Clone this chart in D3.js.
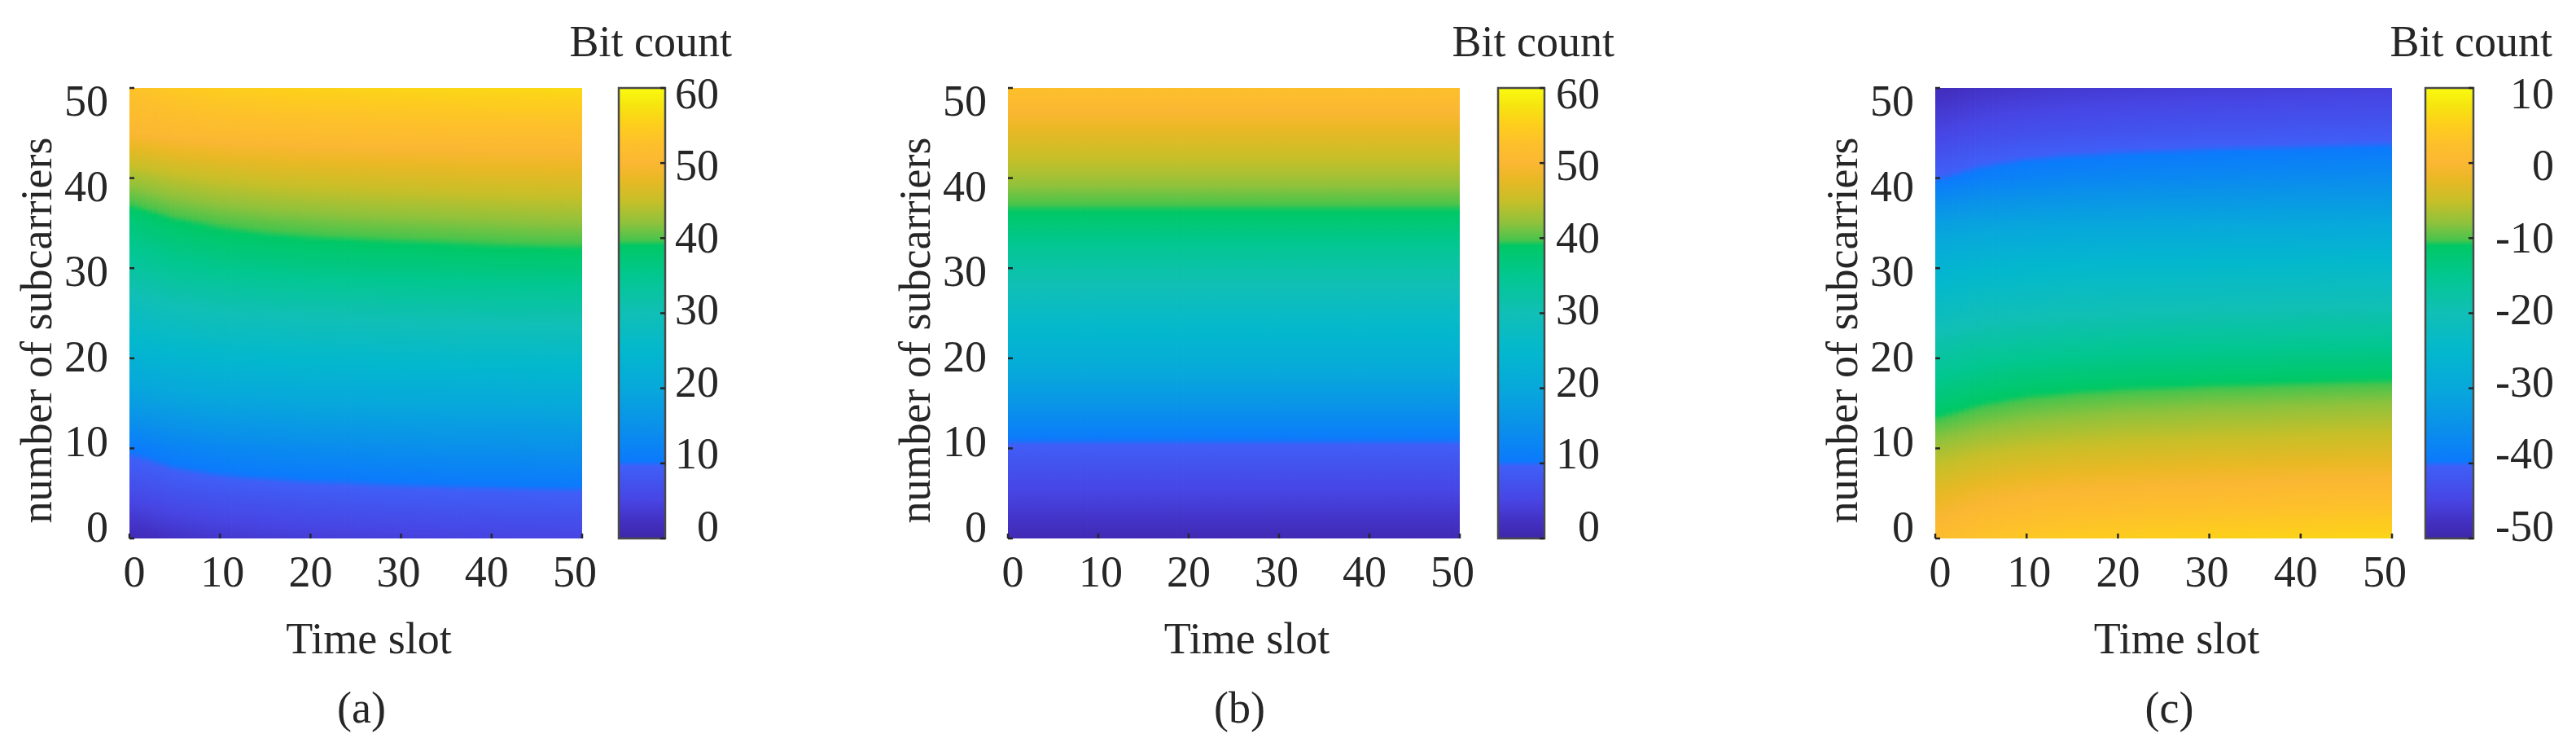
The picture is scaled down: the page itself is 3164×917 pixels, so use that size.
<!DOCTYPE html>
<html><head><meta charset="utf-8">
<script src="https://cdn.jsdelivr.net/npm/d3@7/dist/d3.min.js"></script>
<style>
html,body{margin:0;padding:0;background:#fff;}
svg{display:block;}
text{font-family:"Liberation Serif","Times New Roman",serif;fill:#262626;}
</style>
</head><body>
<svg id="chart" width="3164" height="917"></svg>
<script>
// ---------------- data ----------------
const timeSlots   = [0, 5, 10, 15, 20, 25, 30, 35, 40, 45, 50];
const subcarriers = [0, 5, 10, 15, 20, 25, 30, 35, 40, 45, 50];
const axisTicks   = [0, 10, 20, 30, 40, 50];
const cbTicksAB   = [0, 10, 20, 30, 40, 50, 60];
const cbTicksC    = [-50, -40, -30, -20, -10, 0, 10];
const panelLabels = ["(a)", "(b)", "(c)"];
const xTitle = "Time slot";
const yTitle = "number of subcarriers";
const cbTitle = "Bit count";

// rows = subcarriers (0..50), columns = time slots (0..50)
const bitsA = [
  [1, 2.4, 3.2, 3.7, 4, 4.2, 4.4, 4.6, 4.8, 4.9, 5],
  [6, 7.2, 7.9, 8.3, 8.6, 8.8, 9, 9.2, 9.3, 9.4, 9.5],
  [10.5, 12.1, 13, 13.5, 13.9, 14.1, 14.4, 14.6, 14.7, 14.9, 15],
  [17.5, 18.6, 19.2, 19.5, 19.8, 19.9, 20.1, 20.2, 20.3, 20.4, 20.5],
  [23, 24.1, 24.7, 25, 25.3, 25.4, 25.6, 25.7, 25.8, 25.9, 26],
  [28, 29.2, 29.9, 30.3, 30.6, 30.8, 31, 31.2, 31.3, 31.4, 31.5],
  [33, 34.4, 35.2, 35.7, 36, 36.2, 36.4, 36.6, 36.8, 36.9, 37],
  [37, 38.8, 39.8, 40.4, 40.8, 41.1, 41.3, 41.5, 41.7, 41.9, 42],
  [43, 44.4, 45.2, 45.7, 46, 46.2, 46.4, 46.6, 46.8, 46.9, 47],
  [50, 50.7, 51.1, 51.3, 51.5, 51.6, 51.7, 51.8, 51.9, 51.9, 52],
  [53, 54.2, 54.9, 55.3, 55.6, 55.8, 56, 56.2, 56.3, 56.4, 56.5]
];
// panel (b) does not change along the time axis: one value per subcarrier row
const bitsB = [1, 5, 9, 16, 22, 27, 32, 37.5, 43, 47.5, 52.5];
const bitsC = [
  [1.5, 3.1, 4, 4.5, 4.9, 5.1, 5.4, 5.6, 5.7, 5.9, 6],
  [-2.5, -1.1, -0.3, 0.2, 0.5, 0.7, 0.9, 1.1, 1.3, 1.4, 1.5],
  [-7, -5.8, -5.1, -4.7, -4.4, -4.2, -4, -3.9, -3.7, -3.6, -3.5],
  [-12.5, -10.9, -10, -9.5, -9.1, -8.9, -8.6, -8.5, -8.3, -8.1, -8],
  [-17, -15.8, -15.1, -14.7, -14.4, -14.2, -14, -13.9, -13.7, -13.6, -13.5],
  [-22, -21, -20.4, -20, -19.8, -19.6, -19.4, -19.3, -19.2, -19.1, -19],
  [-26.5, -25.6, -25.1, -24.8, -24.6, -24.5, -24.4, -24.3, -24.2, -24.1, -24],
  [-32, -31.3, -30.9, -30.7, -30.5, -30.4, -30.3, -30.2, -30.1, -30.1, -30],
  [-40.3, -38.8, -37.9, -37.4, -37.1, -36.8, -36.6, -36.4, -36.3, -36.1, -36],
  [-45, -43.8, -43.1, -42.7, -42.4, -42.2, -42, -41.9, -41.7, -41.6, -41.5],
  [-48.5, -47.5, -46.9, -46.5, -46.3, -46.1, -45.9, -45.8, -45.7, -45.6, -45.5]
];

// parula-like colormap (fraction -> colour)
const parulaPos = [0, 0.04, 0.085, 0.16, 0.172, 0.25, 0.333, 0.417, 0.5, 0.583, 0.65, 0.662, 0.70, 0.75, 0.80, 0.833, 0.88, 0.92, 0.96, 1];
const parulaCol = ["#3d26a8", "#4331c4", "#4745e3", "#3f5ff7", "#0b7afc", "#0a91ea", "#07a8db", "#03b8cd", "#10bfb6", "#02c790",
                   "#00c865", "#48c44c", "#8ec23c", "#c8bf28", "#eab825", "#fbb733", "#fdc12a", "#fdcf1c", "#f6e40f", "#f9fb0e"];

// ---------------- layout ----------------
const TOP = 108, BOTTOM = 661;
const FS = 54;
const panels = [
  {id: "a", grid: bitsA, x0: 159, x1: 715, cb0: 760, cb1: 817, cmin: 0, cmax: 60, cbTicks: cbTicksAB, cbLabelX: 883, titleX: 899},
  {id: "b", grid: bitsB, x0: 1238, x1: 1793, cb0: 1840, cb1: 1897, cmin: 0, cmax: 60, cbTicks: cbTicksAB, cbLabelX: 1965, titleX: 1983},
  {id: "c", grid: bitsC, x0: 2377, x1: 2938, cb0: 2979, cb1: 3038, cmin: -50, cmax: 10, cbTicks: cbTicksC, cbLabelX: 3137, titleX: 3135}
];

const svg = d3.select("#chart");
const defs = svg.append("defs");
const SUBY = 12; // shading steps between neighbouring data rows
const SUBX = 8;  // shading strips between neighbouring data columns

function cellValue(grid, j, i) {
  const row = grid[j];
  return Array.isArray(row) ? row[i] : row;
}

panels.forEach((p, pi) => {
  const g = svg.append("g");
  const x = d3.scaleLinear().domain([0, 50]).range([p.x0, p.x1]);
  const y = d3.scaleLinear().domain([0, 50]).range([BOTTOM, TOP]);
  const color = d3.scaleLinear()
    .domain(parulaPos.map(t => p.cmin + t * (p.cmax - p.cmin)))
    .range(parulaCol)
    .interpolate(d3.interpolateRgb)
    .clamp(true);

  // heat map with interpolated shading between the data nodes
  for (let i = 0; i < timeSlots.length - 1; i++) {
    const t0 = timeSlots[i], t1 = timeSlots[i + 1];
    for (let s = 0; s < SUBX; s++) {
      const fx = (s + 0.5) / SUBX;
      const gid = "g" + p.id + i + "_" + s;
      const grad = defs.append("linearGradient").attr("id", gid)
        .attr("x1", 0).attr("y1", 1).attr("x2", 0).attr("y2", 0);
      const col = j => {
        const a = cellValue(p.grid, j, i), b = cellValue(p.grid, j, i + 1);
        return a + (b - a) * fx;
      };
      for (let j = 0; j < subcarriers.length - 1; j++) {
        const v0 = col(j), v1 = col(j + 1);
        const s0 = subcarriers[j], s1 = subcarriers[j + 1];
        for (let k = 0; k < SUBY; k++) {
          const f = k / SUBY;
          grad.append("stop").attr("offset", (s0 + (s1 - s0) * f) / 50)
            .attr("stop-color", color(v0 + (v1 - v0) * f));
        }
      }
      grad.append("stop").attr("offset", 1).attr("stop-color", color(col(subcarriers.length - 1)));
      const xa = x(t0 + (t1 - t0) * s / SUBX), xb = x(t0 + (t1 - t0) * (s + 1) / SUBX);
      const last = (i === timeSlots.length - 2 && s === SUBX - 1);
      g.append("rect")
        .attr("x", xa).attr("y", y(50))
        .attr("width", xb - xa + (last ? 0 : 0.8))
        .attr("height", y(0) - y(50))
        .attr("fill", "url(#" + gid + ")");
    }
  }

  // inward ticks
  g.selectAll(".xt").data(axisTicks).enter().append("line")
    .attr("x1", d => x(d)).attr("x2", d => x(d))
    .attr("y1", BOTTOM).attr("y2", BOTTOM - 6)
    .attr("stroke", "#262626").attr("stroke-width", 2.5);
  g.selectAll(".yt").data(axisTicks).enter().append("line")
    .attr("x1", p.x0).attr("x2", p.x0 + 6)
    .attr("y1", d => y(d)).attr("y2", d => y(d))
    .attr("stroke", "#262626").attr("stroke-width", 2.5);

  // tick labels
  const xl = d3.scaleLinear().domain([0, 50]).range([p.x0 + 6, p.x1 - 9]);
  const yl = d3.scaleLinear().domain([0, 50]).range([BOTTOM - 15, TOP + 15]);
  g.selectAll(".xl").data(axisTicks).enter().append("text")
    .attr("x", d => xl(d)).attr("y", 720)
    .attr("text-anchor", "middle").attr("font-size", FS)
    .text(d => d);
  g.selectAll(".yl").data(axisTicks).enter().append("text")
    .attr("x", p.x0 - 26).attr("y", d => yl(d)).attr("dy", "0.35em")
    .attr("text-anchor", "end").attr("font-size", FS)
    .text(d => d);

  // axis titles
  const cx = (p.x0 + p.x1) / 2;
  g.append("text").attr("x", cx + 16).attr("y", 802)
    .attr("text-anchor", "middle").attr("font-size", FS).text(xTitle);
  g.append("text")
    .attr("transform", "translate(" + (p.x0 - 96) + "," + ((TOP + BOTTOM) / 2 + 21) + ") rotate(-90)")
    .attr("text-anchor", "middle").attr("font-size", FS).text(yTitle);
  g.append("text").attr("x", cx + 7).attr("y", 887)
    .attr("text-anchor", "middle").attr("font-size", FS).text(panelLabels[pi]);

  // colour bar
  const cby = d3.scaleLinear().domain([p.cmin, p.cmax]).range([BOTTOM, TOP]);
  const cgid = "cb" + p.id;
  const cg = defs.append("linearGradient").attr("id", cgid)
    .attr("x1", 0).attr("y1", 1).attr("x2", 0).attr("y2", 0);
  parulaPos.forEach((t, k) => {
    cg.append("stop").attr("offset", t).attr("stop-color", parulaCol[k]);
  });
  g.append("rect").attr("x", p.cb0).attr("y", TOP)
    .attr("width", p.cb1 - p.cb0).attr("height", BOTTOM - TOP)
    .attr("fill", "url(#" + cgid + ")")
    .attr("stroke", "#4a4a4a").attr("stroke-width", 2.5);
  g.selectAll(".ct").data(p.cbTicks).enter().append("line")
    .attr("x1", p.cb1 - 6).attr("x2", p.cb1)
    .attr("y1", d => cby(d)).attr("y2", d => cby(d))
    .attr("stroke", "#262626").attr("stroke-width", 2.5);
  const cbl = d3.scaleLinear().domain([p.cmin, p.cmax]).range([BOTTOM - 16, TOP + 6]);
  g.selectAll(".cl").data(p.cbTicks).enter().append("text")
    .attr("x", p.cbLabelX).attr("y", d => cbl(d)).attr("dy", "0.35em")
    .attr("text-anchor", "end").attr("font-size", FS)
    .text(d => d);
  g.append("text").attr("x", p.titleX).attr("y", 69)
    .attr("text-anchor", "end").attr("font-size", FS).text(cbTitle);
});
</script>
</body></html>
